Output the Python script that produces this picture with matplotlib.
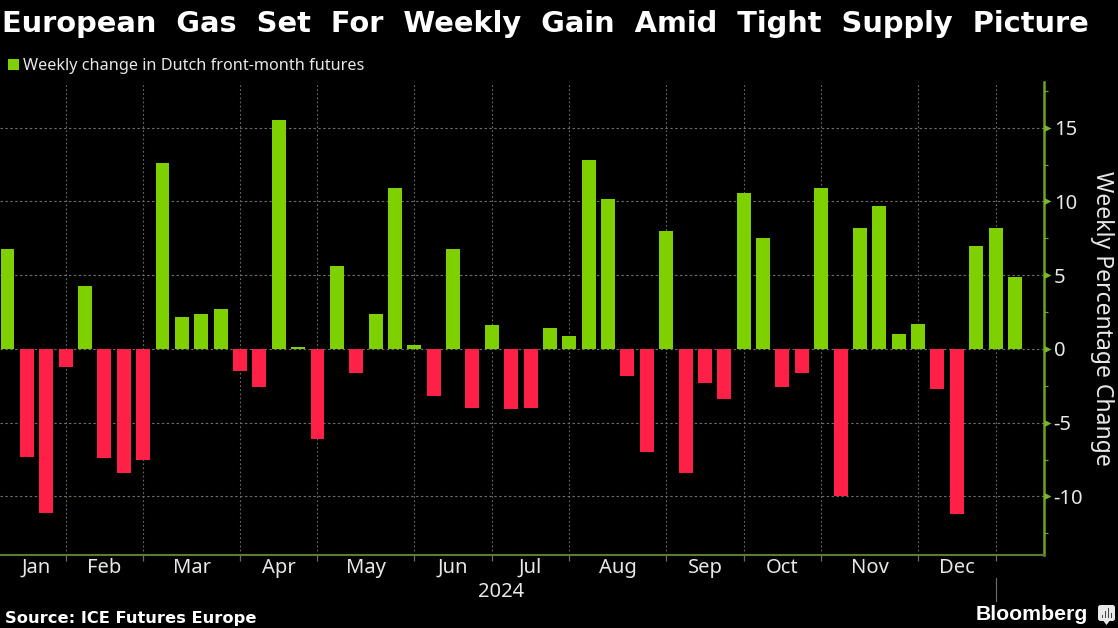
import matplotlib
matplotlib.use("Agg")
import matplotlib.pyplot as plt
from matplotlib.patches import FancyBboxPatch, Rectangle, Polygon
from matplotlib.path import Path

W, H = 1118, 628

changes = [6.8, -7.3, -11.1, -1.2, 4.3, -7.4, -8.4, -7.5, 12.6, 2.2, 2.4, 2.7, -1.5,
           -2.6, 15.5, 0.15, -6.1, 5.6, -1.6, 2.4, 10.9, 0.3, -3.2, 6.8, -4.0, 1.6,
           -4.1, -4.0, 1.4, 0.9, 12.8, 10.2, -1.8, -7.0, 8.0, -8.4, -2.3, -3.4, 10.6,
           7.5, -2.6, -1.6, 10.9, -10.0, 8.2, 9.7, 1.0, 1.7, -2.7, -11.2, 7.0, 8.2, 4.9]
month_labels = ["Jan", "Feb", "Mar", "Apr", "May", "Jun", "Jul", "Aug", "Sep", "Oct", "Nov", "Dec"]
month_centers = [1.5, 5, 9.5, 14, 18.5, 23, 27, 31.5, 36, 40, 44.5, 49]
month_bounds = [3, 7, 12, 16, 21, 25, 29, 34, 38, 42, 47, 51]
y_ticks = [-10, -5, 0, 5, 10, 15]
y_minor = [-12.5, -7.5, -2.5, 2.5, 7.5, 12.5, 17.5]
title_words = ["European", "Gas", "Set", "For", "Weekly", "Gain", "Amid", "Tight", "Supply", "Picture"]

GREEN = "#7fd000"
RED = "#ff2048"
GRID = "#6e6e62"
AXIS_G = "#6da51f"
TEXT = "#e8e8e8"
FONT = "Noto Sans"

fig = plt.figure(figsize=(W / 100, H / 100), dpi=100, facecolor="black")
ax = fig.add_axes([0, 1 - 555 / H, 1044 / W, (555 - 82) / H], facecolor="black")
ax.set_xlim(-0.387, 53.5)
ax.set_ylim(-13.97, 18.1)

colors = [GREEN if v >= 0 else RED for v in changes]
ax.bar(range(len(changes)), changes, width=0.72, color=colors, linewidth=0, zorder=3)

for t in y_ticks:
    ax.axhline(t, color=GRID, lw=0.8, ls=(0, (2.2, 2.2)), zorder=1)
for b in month_bounds:
    ax.axvline(b, color=GRID, lw=0.8, ls=(0, (1.5, 2.2)), zorder=1)

for s in ["top", "left"]:
    ax.spines[s].set_visible(False)
ax.spines["bottom"].set_color("#5f7a35")
ax.spines["bottom"].set_linewidth(1.5)
ax.spines["right"].set_color(AXIS_G)
ax.spines["right"].set_linewidth(1.8)

ax.set_xticks(month_bounds)
ax.set_xticklabels([])
ax.tick_params(axis="x", length=4, width=0.9, color=GRID)
ax.yaxis.tick_right()
ax.set_yticks(y_ticks)
ax.set_yticklabels([str(t) for t in y_ticks], fontsize=14.5, color=TEXT, family=FONT)
ax.set_yticks(y_minor, minor=True)
ax.tick_params(axis="y", which="major", length=0, pad=7)
ax.tick_params(axis="y", which="minor", length=3, width=0.9, color=AXIS_G)
tri = Path([(0, -0.5), (1, 0), (0, 0.5), (0, -0.5)], closed=True)
ax.plot([1.0] * len(y_ticks), y_ticks, transform=ax.get_yaxis_transform(), ls="none",
        marker=tri, ms=10, mfc="#7ab82a", mec="none", clip_on=False, zorder=5)

for lab, c in zip(month_labels, month_centers):
    fig.text(ax.transData.transform((c, 0))[0] / W, 1 - 568 / H, lab, color=TEXT,
             fontsize=14.5, family=FONT, ha="center", va="center")

fig.text(501 / W, 1 - 592 / H, "2024", color=TEXT, fontsize=14.5, family=FONT,
         ha="center", va="center")
sep_x = ax.transData.transform((month_bounds[-1], 0))[0] / W
fig.add_artist(plt.Line2D([sep_x, sep_x], [1 - 578 / H, 1 - 601 / H], color=GRID, lw=0.8))

fig.text(2 / W, 1 - 24 / H, "  ".join(title_words),
         color="white", fontsize=20.8, fontweight="bold", family="DejaVu Sans", ha="left", va="center")
fig.add_artist(Rectangle((8 / W, 1 - 70 / H), 11 / W, 11 / H, transform=fig.transFigure,
                         color=GREEN, lw=0))
fig.text(23 / W, 1 - 66 / H, "Weekly change in Dutch front-month futures", color=TEXT,
         fontsize=11.7, family=FONT, ha="left", va="center")
fig.text(1102 / W, 1 - 318 / H, "Weekly Percentage Change", color=TEXT, fontsize=16.5,
         family=FONT, rotation=270, ha="center", va="center")
fig.text(5 / W, 1 - 618 / H, "Source: ICE Futures Europe", color="white", fontsize=11.7,
         fontweight="bold", family="DejaVu Sans", ha="left", va="center")
fig.text(1088 / W, 1 - 614 / H, "Bloomberg", color="white", fontsize=15.3, fontweight="bold",
         family="Liberation Sans", ha="right", va="center")

# Bloomberg mark
ax_icon = fig.add_axes([1098 / W, 1 - 626 / H, 17 / W, 21 / H])
ax_icon.set_xlim(1098, 1115)
ax_icon.set_ylim(626, 605)
ax_icon.axis("off")
ax_icon.add_patch(FancyBboxPatch((1098, 605), 17, 16, boxstyle="round,pad=0,rounding_size=2.5",
                                 fc="#e8e8e8", ec="none", clip_on=False))
ax_icon.add_patch(Polygon([(1103.5, 621), (1109.5, 621), (1106.5, 625)], fc="#e8e8e8", ec="none"))
for bx, top in zip([1101.5, 1104.5, 1107.5, 1110.5], [615, 611, 608, 613]):
    ax_icon.add_patch(Rectangle((bx, top), 1.4, 618 - top, fc="#444444", ec="none"))

fig.savefig("out.png", dpi=100, facecolor="black")
